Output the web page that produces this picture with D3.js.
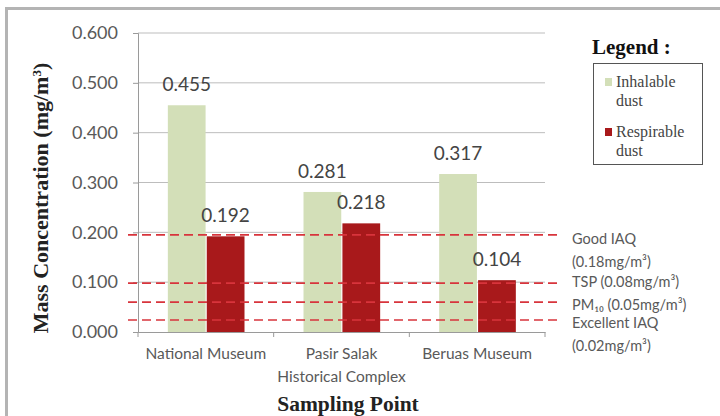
<!DOCTYPE html>
<html>
<head>
<meta charset="utf-8">
<script src="https://cdn.jsdelivr.net/npm/d3@7"></script>
<style>
  body { margin: 0; background: #fff; }
  svg { display: block; }
</style>
</head>
<body>
<div id="chart"></div>
<script>
// Data
const sites = ['National Museum', 'Pasir Salak\nHistorical Complex', 'Beruas Museum'];
const series = ['Inhalable dust', 'Respirable dust'];
const inhalable = [0.455, 0.281, 0.317];
const respirable = [0.192, 0.218, 0.104];
const yTicks = [0, 0.1, 0.2, 0.3, 0.4, 0.5, 0.6];
// reference lines as drawn in the picture, with their labels
const refLevels = [0.195, 0.098, 0.06, 0.024];
const refLabels = [
    ['Good IAQ', '(0.18mg/m³)'],
    ['TSP (0.08mg/m³)'],
    ['PM₁₀ (0.05mg/m³)'],
    ['Excellent IAQ', '(0.02mg/m³)']
];

const W = 720, H = 416;
const colors = ['#d3dfb8', '#a8191b'];
const sansFont = 'Lato, "Open Sans", sans-serif';
const serifFont = '"Liberation Serif", "DejaVu Serif", serif';

const svg = d3.select('#chart').append('svg')
    .attr('width', W).attr('height', H);

// outer frame
svg.append('path')
    .attr('d', `M6.5,${H} L6.5,8.5 L${W},8.5`)
    .attr('fill', 'none').attr('stroke', '#b4b4b4').attr('stroke-width', 3);

const plot = { left: 138, right: 545, top: 33, bottom: 332 };

const x = d3.scaleBand().domain(sites).range([plot.left, plot.right]);
const inner = d3.scaleBand().domain(series).range([x.bandwidth() * 0.22, x.bandwidth() * 0.785]).paddingInner(0.03);
const y = d3.scaleLinear().domain([0, 0.6]).range([plot.bottom, plot.top]);

// gridlines
svg.append('g')
    .selectAll('line')
    .data(yTicks.slice(1))
    .enter()
    .append('line')
    .attr('x1', plot.left).attr('x2', plot.right)
    .attr('y1', d => y(d)).attr('y2', d => y(d))
    .attr('stroke', '#bdbdbd').attr('stroke-width', 1);

// y axis
const yAxis = svg.append('g')
    .attr('transform', `translate(${plot.left},0)`)
    .call(d3.axisLeft(y).tickValues(yTicks).tickFormat(d3.format('.3f')).tickSize(5).tickPadding(15));
yAxis.select('.domain').attr('stroke', '#9a9a9a');
yAxis.selectAll('line').attr('stroke', '#9a9a9a');
yAxis.selectAll('text')
    .style('font-family', sansFont).style('font-size', '18px').attr('fill', '#595959');

// x axis
const xAxis = svg.append('g')
    .attr('transform', `translate(0,${plot.bottom})`)
    .call(d3.axisBottom(x).tickSize(0).tickFormat(''));
xAxis.select('.domain').attr('stroke', '#9a9a9a');
svg.append('g')
    .selectAll('line')
    .data(d3.range(sites.length + 1))
    .enter()
    .append('line')
    .attr('x1', i => plot.left + i * x.step()).attr('x2', i => plot.left + i * x.step())
    .attr('y1', plot.bottom).attr('y2', plot.bottom + 5)
    .attr('stroke', '#9a9a9a');

const xLabels = svg.append('g')
    .selectAll('text')
    .data(sites)
    .enter()
    .append('text')
    .attr('x', d => x(d) + x.bandwidth() / 2)
    .attr('y', 359)
    .attr('text-anchor', 'middle')
    .attr('fill', '#595959')
    .style('font-family', sansFont)
    .style('font-size', '15.5px');
xLabels.each(function (d) {
    const t = d3.select(this);
    d.split('\n').forEach((line, i) => {
        t.append('tspan').attr('x', x(d) + x.bandwidth() / 2).attr('dy', i ? 23 : 0).text(line);
    });
});

// bars
const rows = sites.map((s, i) => ({ site: s, values: [inhalable[i], respirable[i]] }));
const groups = svg.append('g')
    .selectAll('g')
    .data(rows)
    .enter()
    .append('g')
    .attr('transform', d => `translate(${x(d.site)},0)`);

groups.selectAll('rect')
    .data(d => d.values.map((v, j) => ({ key: series[j], v, j })))
    .enter()
    .append('rect')
    .attr('x', d => inner(d.key))
    .attr('width', inner.bandwidth())
    .attr('y', d => y(d.v))
    .attr('height', d => y(0) - y(d.v))
    .attr('fill', d => colors[d.j]);

groups.selectAll('text')
    .data(d => d.values.map((v, j) => ({ key: series[j], v, j })))
    .enter()
    .append('text')
    .attr('x', d => inner(d.key) + inner.bandwidth() / 2)
    .attr('y', d => y(d.v) - 14)
    .attr('text-anchor', 'middle')
    .attr('fill', '#444')
    .style('font-family', sansFont)
    .style('font-size', '19px')
    .text(d => d.v.toFixed(3));

// dashed reference lines
svg.append('g')
    .selectAll('line')
    .data(refLevels)
    .enter()
    .append('line')
    .attr('x1', 128).attr('x2', 558)
    .attr('y1', d => y(d)).attr('y2', d => y(d))
    .attr('stroke', '#d8343c')
    .attr('stroke-width', 1.6)
    .attr('stroke-dasharray', '9,5');

// reference labels
const refY = [239, 282, 305, 323];
const refText = svg.append('g')
    .selectAll('text')
    .data(refLabels)
    .enter()
    .append('text')
    .attr('x', 572)
    .attr('y', (d, i) => refY[i] + 5)
    .attr('fill', '#595959')
    .style('font-family', sansFont)
    .style('font-size', '14.5px');
refText.each(function (d, i) {
    const t = d3.select(this);
    d.forEach((line, k) => {
        t.append('tspan').attr('x', 572).attr('dy', k ? 23 : 0).text(line);
    });
});

// y axis title
svg.append('text')
    .attr('transform', 'translate(48,198) rotate(-90)')
    .attr('text-anchor', 'middle')
    .attr('fill', '#222')
    .style('font-family', serifFont)
    .style('font-weight', 'bold')
    .style('font-size', '22px')
    .html('Mass Concentration (mg/m<tspan baseline-shift="super" font-size="13px">3</tspan>)');

// x axis title
svg.append('text')
    .attr('x', 348).attr('y', 410.5)
    .attr('text-anchor', 'middle')
    .attr('fill', '#222')
    .style('font-family', serifFont)
    .style('font-weight', 'bold')
    .style('font-size', '21.5px')
    .text('Sampling Point');

// legend
svg.append('text')
    .attr('x', 592).attr('y', 54)
    .attr('fill', '#111')
    .style('font-family', serifFont)
    .style('font-weight', 'bold')
    .style('font-size', '21px')
    .text('Legend :');

svg.append('rect')
    .attr('x', 593.5).attr('y', 63.5).attr('width', 109).attr('height', 101)
    .attr('fill', 'none').attr('stroke', '#555').attr('stroke-width', 1);

const legendItems = svg.append('g')
    .selectAll('g')
    .data(series)
    .enter()
    .append('g')
    .attr('transform', (d, i) => `translate(605,${87 + i * 50})`);
legendItems.append('rect')
    .attr('x', 0).attr('y', -9).attr('width', 7).attr('height', 8)
    .attr('fill', (d, i) => colors[i]);
legendItems.append('text')
    .attr('x', 11).attr('y', 0)
    .attr('fill', '#444')
    .style('font-family', serifFont)
    .style('font-size', '16px')
    .each(function (d) {
        const parts = d.split(' ');
        d3.select(this).append('tspan').attr('x', 11).attr('dy', 0).text(parts[0]);
        d3.select(this).append('tspan').attr('x', 11).attr('dy', 19).text(parts[1]);
    });
</script>
</body>
</html>
